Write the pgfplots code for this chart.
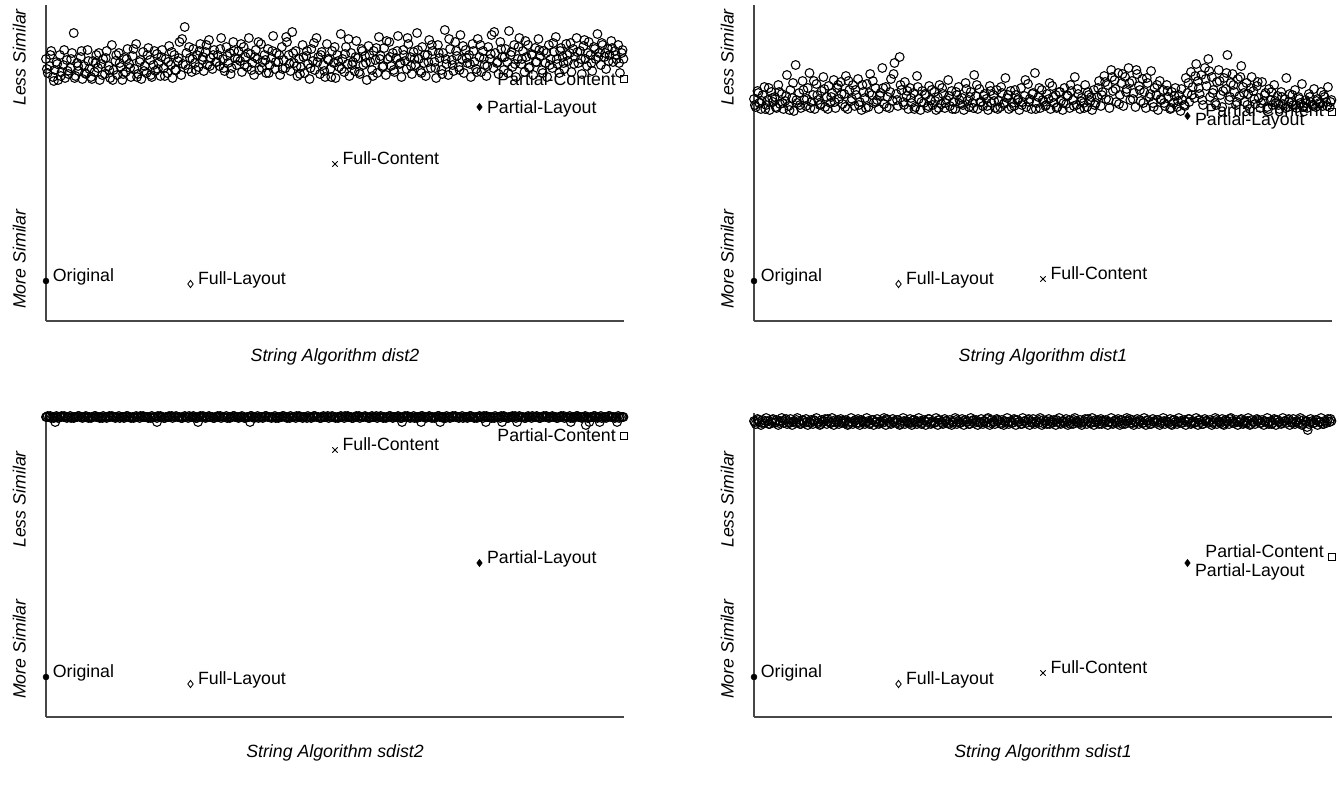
\documentclass[border=0pt]{standalone}
\usepackage{pgfplots}
\pgfplotsset{compat=1.18}
\usepackage{fontspec}
\setmainfont{Liberation Sans}
\begin{document}
\fontsize{13.3pt}{16pt}\selectfont
\begin{tikzpicture}
\path[use as bounding box] (0,0) rectangle (1004.25pt,-594pt);
\pgfplotsset{
 panel/.style={scale only axis, width=433.5pt, xmin=0, xmax=1000, ymin=0,
   axis lines=left, axis line style={-, line width=0.9pt, color=black!72}, xtick=\empty, ytick=\empty,
   clip=false, anchor=south west},
 toppanel/.style={panel, height=237pt, ymax=316},
 botpanel/.style={panel, height=228pt, ymax=304},
 cloud/.style={only marks, mark=o, mark size=3.3pt, mark options={line width=0.8pt, black}},
 orig/.style={only marks, mark=*, mark size=2.2pt, black},
 flay/.style={only marks, mark=diamond, mark size=2.7pt, mark options={line width=0.65pt}, black},
 fcon/.style={only marks, mark=x, mark size=2.8pt, mark options={line width=0.7pt}, black},
 play/.style={only marks, mark=diamond*, mark size=2.7pt, black},
 pcon/.style={only marks, mark=square, mark size=2.4pt, mark options={line width=0.65pt}, black},
}
\newcommand\ylabs[2]{%
 \node[xshift=-20pt, rotate=90, anchor=east, font=\itshape] at (axis cs:0,#1) {Less Similar};
 \node[xshift=-20pt, rotate=90, anchor=west, font=\itshape] at (axis cs:0,#2) {More Similar};}
% ---------------- panel 1: dist2
\begin{axis}[toppanel, at={(34.5pt,-240.75pt)}]
\addplot[cloud] coordinates {
(0,262)(3,248)(6,255)(9,270)(12,244)(15,251)(18,259)(21,241)(24,266)(27,249)(30,256)(33,243)(36,261)(39,247)(42,253)(45,268)(48,288)(51,245)(54,258)(57,250)(60,264)(63,242)(66,255)(69,247)(72,271)(75,252)(78,244)(81,260)(84,249)(87,266)(90,253)(93,241)(96,257)(99,262)
(102,247)(105,270)(108,255)(111,243)(114,276)(117,251)(120,260)(123,246)(126,268)(129,254)(132,241)(135,263)(138,249)(141,272)(144,257)(147,244)(150,265)(153,252)(156,277)(159,247)(162,259)(165,242)(168,269)(171,255)(174,248)(177,273)(180,261)(183,244)(186,256)(189,250)(192,267)(195,258)(198,245)
(201,271)(204,253)(207,262)(210,248)(213,275)(216,256)(219,243)(222,266)(225,251)(228,260)(231,279)(234,246)(237,257)(240,294)(243,268)(246,252)(249,263)(252,249)(255,272)(258,258)(261,266)(264,254)(267,277)(270,261)(273,250)(276,269)(279,256)(282,281)(285,263)(288,252)(291,271)(294,259)(297,266)
(300,255)(303,283)(306,262)(309,250)(312,274)(315,258)(318,268)(321,253)(324,279)(327,263)(330,256)(333,270)(336,260)(339,249)(342,274)(345,264)(348,254)(351,283)(354,267)(357,258)(360,246)(363,271)(366,262)(369,251)(372,277)(375,259)(378,266)(381,248)(384,272)(387,256)(390,263)(393,285)(396,252)(399,268)
(402,259)(405,246)(408,274)(411,261)(414,253)(417,279)(420,266)(423,250)(426,289)(429,258)(432,270)(435,245)(438,262)(441,254)(444,276)(447,248)(450,265)(453,257)(456,242)(459,272)(462,260)(465,251)(468,283)(471,264)(474,247)(477,269)(480,256)(483,244)(486,277)(489,261)(492,252)(495,270)(498,258)
(501,243)(504,266)(507,254)(510,287)(513,262)(516,249)(519,274)(522,257)(525,245)(528,268)(531,259)(534,250)(537,280)(540,263)(543,247)(546,272)(549,256)(552,265)(555,241)(558,275)(561,259)(564,251)(567,270)(570,261)(573,248)(576,284)(579,265)(582,254)(585,273)(588,246)(591,262)(594,279)(597,255)
(600,268)(603,249)(606,263)(609,285)(612,257)(615,244)(618,271)(621,260)(624,252)(627,277)(630,264)(633,247)(636,269)(639,256)(642,288)(645,262)(648,250)(651,274)(654,258)(657,245)(660,266)(663,281)(666,253)(669,270)(672,259)(675,243)(678,276)(681,263)(684,251)(687,268)(690,291)(693,257)(696,246)(699,272)
(702,261)(705,250)(708,279)(711,265)(714,254)(717,286)(720,262)(723,248)(726,271)(729,258)(732,266)(735,244)(738,277)(741,259)(744,252)(747,282)(750,264)(753,249)(756,270)(759,256)(762,245)(765,274)(768,262)(771,286)(774,253)(777,268)(780,258)(783,247)(786,279)(789,264)(792,251)(795,272)(798,259)
(801,290)(804,266)(807,254)(810,276)(813,244)(816,262)(819,283)(822,257)(825,270)(828,249)(831,264)(834,276)(837,254)(840,267)(843,246)(846,273)(849,259)(852,282)(855,265)(858,251)(861,270)(864,258)(867,244)(870,276)(873,262)(876,253)(879,269)(882,284)(885,257)(888,248)(891,273)(894,264)(897,252)
(900,277)(903,260)(906,268)(909,249)(912,272)(915,264)(918,283)(921,258)(924,270)(927,247)(930,275)(933,262)(936,255)(939,279)(942,266)(945,250)(948,274)(951,262)(954,287)(957,268)(960,256)(963,276)(966,264)(969,252)(972,272)(975,266)(978,280)(981,259)(984,270)(987,262)(990,276)(993,248)(996,268)(999,262)
(1.5,252)(7.5,266)(13.5,240)(19.5,257)(25.5,245)(31.5,271)(37.5,250)(43.5,262)(49.5,243)(55.5,255)(61.5,270)(67.5,248)(73.5,260)(79.5,242)(85.5,258)(91.5,268)(97.5,246)(103.5,263)(109.5,251)(115.5,241)(121.5,266)(127.5,258)(133.5,247)(139.5,262)(145.5,253)(151.5,272)(157.5,244)(163.5,261)(169.5,250)(175.5,266)(181.5,246)(187.5,270)(193.5,252)(199.5,264)
(205.5,245)(211.5,259)(217.5,269)(223.5,251)(229.5,263)(235.5,282)(241.5,256)(247.5,274)(253.5,262)(259.5,251)(265.5,270)(271.5,264)(277.5,276)(283.5,255)(289.5,266)(295.5,259)(301.5,272)(307.5,253)(313.5,265)(319.5,247)(325.5,270)(331.5,262)(337.5,277)(343.5,256)(349.5,268)(355.5,251)(361.5,264)(367.5,279)(373.5,253)(379.5,261)(385.5,248)(391.5,270)(397.5,259)
(403.5,266)(409.5,252)(415.5,284)(421.5,257)(427.5,268)(433.5,255)(439.5,247)(445.5,264)(451.5,270)(457.5,253)(463.5,278)(469.5,259)(475.5,266)(481.5,250)(487.5,262)(493.5,244)(499.5,274)(505.5,260)(511.5,252)(517.5,267)(523.5,282)(529.5,256)(535.5,264)(541.5,249)(547.5,270)(553.5,258)(559.5,266)(565.5,245)(571.5,273)(577.5,262)(583.5,255)(589.5,280)(595.5,264)
(601.5,251)(607.5,270)(613.5,258)(619.5,266)(625.5,283)(631.5,255)(637.5,262)(643.5,271)(649.5,248)(655.5,266)(661.5,259)(667.5,276)(673.5,253)(679.5,268)(685.5,247)(691.5,262)(697.5,282)(703.5,256)(709.5,270)(715.5,251)(721.5,275)(727.5,263)(733.5,257)(739.5,270)(745.5,249)(751.5,276)(757.5,262)(763.5,255)(769.5,267)(775.5,289)(781.5,259)(787.5,272)(793.5,264)(799.5,248)
(805.5,269)(811.5,257)(817.5,274)(823.5,262)(829.5,280)(835.5,253)(841.5,266)(847.5,259)(853.5,271)(859.5,248)(865.5,268)(871.5,256)(877.5,278)(883.5,262)(889.5,270)(895.5,258)(901.5,266)(907.5,278)(913.5,257)(919.5,269)(925.5,262)(931.5,281)(937.5,268)(943.5,258)(949.5,272)(955.5,264)(961.5,278)(967.5,268)(973.5,260)(979.5,273)(985.5,266)(991.5,258)(997.5,271)
};
\addplot[orig] coordinates {(0,40)};
\addplot[flay] coordinates {(250,37)};
\addplot[fcon] coordinates {(500,157)};
\addplot[play] coordinates {(750,214)};
\addplot[pcon] coordinates {(1000,242)};
\node[anchor=base west, inner sep=0pt, xshift=5pt] at (axis cs:0,40) {Original};
\node[anchor=base west, inner sep=0pt, xshift=5.5pt] at (axis cs:250,37) {Full-Layout};
\node[anchor=base west, inner sep=0pt, xshift=5.5pt] at (axis cs:500,157) {Full-Content};
\node[anchor=base west, inner sep=0pt, xshift=5.5pt, yshift=-5pt] at (axis cs:750,214) {Partial-Layout};
\node[anchor=base east, inner sep=0pt, xshift=-6pt, yshift=-5pt] at (axis cs:1000,242) {Partial-Content};
\ylabs{318}{6}
\node[font=\itshape] at ([yshift=-27pt]rel axis cs:0.5,0) {String Algorithm dist2};
\end{axis}
% ---------------- panel 2: dist1
\begin{axis}[toppanel, at={(565.5pt,-240.75pt)}]
\addplot[cloud] coordinates {
(0,222)(3,214)(6,230)(9,218)(12,212)(15,226)(18,234)(21,216)(24,221)(27,211)(30,229)(33,219)(36,224)(39,213)(42,236)(45,217)(48,227)(51,212)(54,220)(57,246)(60,215)(63,231)(66,223)(69,210)(72,256)(75,218)(78,228)(81,213)(84,240)(87,221)(90,215)(93,233)(96,248)(99,219)
(102,226)(105,212)(108,237)(111,221)(114,216)(117,230)(120,244)(123,214)(126,224)(129,235)(132,218)(135,228)(138,241)(141,213)(144,233)(147,222)(150,239)(153,217)(156,227)(159,245)(162,212)(165,231)(168,220)(171,236)(174,215)(177,226)(180,242)(183,219)(186,211)(189,229)(192,223)(195,237)(198,214)
(201,247)(204,226)(207,218)(210,233)(213,221)(216,212)(219,228)(222,253)(225,217)(228,234)(231,224)(234,213)(237,242)(240,220)(243,258)(246,227)(249,215)(252,264)(255,231)(258,219)(261,239)(264,225)(267,212)(270,233)(273,218)(276,228)(279,214)(282,245)(285,222)(288,211)(291,230)(294,218)(297,226)
(300,213)(303,235)(306,221)(309,216)(312,229)(315,211)(318,224)(321,236)(324,217)(327,227)(330,213)(333,221)(336,241)(339,215)(342,230)(345,219)(348,212)(351,226)(354,234)(357,217)(360,223)(363,211)(366,238)(369,220)(372,214)(375,229)(378,218)(381,246)(384,225)(387,212)(390,232)(393,219)(396,215)(399,227)
(402,222)(405,211)(408,235)(411,218)(414,226)(417,213)(420,231)(423,220)(426,214)(429,228)(432,217)(435,243)(438,223)(441,212)(444,230)(447,218)(450,215)(453,226)(456,221)(459,211)(462,233)(465,219)(468,225)(471,214)(474,237)(477,222)(480,212)(483,228)(486,248)(489,218)(492,224)(495,213)(498,231)
(501,219)(504,215)(507,227)(510,222)(513,212)(516,235)(519,218)(522,226)(525,214)(528,229)(531,220)(534,211)(537,233)(540,217)(543,225)(546,213)(549,230)(552,221)(555,244)(558,216)(561,227)(564,212)(567,223)(570,218)(573,236)(576,214)(579,226)(582,220)(585,211)(588,231)(591,218)(594,224)(597,240)
(600,215)(603,229)(606,245)(609,222)(612,236)(615,213)(618,251)(621,230)(624,241)(627,219)(630,248)(633,226)(636,238)(639,215)(642,244)(645,232)(648,253)(651,221)(654,240)(657,228)(660,214)(663,247)(666,235)(669,220)(672,242)(675,229)(678,213)(681,238)(684,224)(687,250)(690,218)(693,233)(696,226)(699,211)
(702,240)(705,221)(708,231)(711,215)(714,236)(717,224)(720,212)(723,229)(726,218)(729,233)(732,214)(735,226)(738,210)(741,221)(744,216)(747,243)(750,228)(753,219)(756,249)(759,234)(762,223)(765,257)(768,240)(771,227)(774,246)(777,216)(780,253)(783,235)(786,262)(789,224)(792,244)(795,231)(798,218)
(801,239)(804,251)(807,226)(810,214)(813,243)(816,232)(819,266)(822,221)(825,238)(828,247)(831,229)(834,216)(837,242)(840,225)(843,255)(846,234)(849,219)(852,238)(855,227)(858,212)(861,244)(864,230)(867,217)(870,235)(873,223)(876,213)(879,239)(882,220)(885,228)(888,214)(891,232)(894,221)(897,216)
(900,236)(903,218)(906,225)(909,212)(912,229)(915,217)(918,222)(921,243)(924,214)(927,227)(930,219)(933,216)(936,231)(939,213)(942,224)(945,218)(948,237)(951,215)(954,221)(957,213)(960,227)(963,219)(966,216)(969,232)(972,214)(975,222)(978,218)(981,229)(984,215)(987,224)(990,219)(993,234)(996,214)(999,221)
(1.5,216)(7.5,228)(13.5,220)(19.5,212)(25.5,233)(31.5,223)(37.5,214)(43.5,229)(49.5,218)(55.5,225)(61.5,211)(67.5,238)(73.5,221)(79.5,216)(85.5,231)(91.5,222)(97.5,213)(103.5,240)(109.5,226)(115.5,217)(121.5,232)(127.5,212)(133.5,224)(139.5,219)(145.5,236)(151.5,227)(157.5,214)(163.5,240)(169.5,222)(175.5,231)(181.5,216)(187.5,236)(193.5,213)(199.5,228)
(205.5,240)(211.5,219)(217.5,225)(223.5,233)(229.5,214)(235.5,229)(241.5,247)(247.5,221)(253.5,236)(259.5,216)(265.5,230)(271.5,223)(277.5,212)(283.5,234)(289.5,219)(295.5,227)(301.5,215)(307.5,231)(313.5,220)(319.5,213)(325.5,233)(331.5,218)(337.5,225)(343.5,212)(349.5,229)(355.5,221)(361.5,216)(367.5,232)(373.5,224)(379.5,213)(385.5,236)(391.5,219)(397.5,225)
(403.5,215)(409.5,230)(415.5,220)(421.5,212)(427.5,234)(433.5,218)(439.5,226)(445.5,214)(451.5,231)(457.5,222)(463.5,216)(469.5,241)(475.5,219)(481.5,227)(487.5,212)(493.5,233)(499.5,221)(505.5,216)(511.5,238)(517.5,224)(523.5,213)(529.5,229)(535.5,218)(541.5,226)(547.5,236)(553.5,215)(559.5,232)(565.5,220)(571.5,213)(577.5,229)(583.5,224)(589.5,216)(595.5,233)
(601.5,226)(607.5,239)(613.5,221)(619.5,244)(625.5,232)(631.5,217)(637.5,247)(643.5,229)(649.5,238)(655.5,222)(661.5,251)(667.5,231)(673.5,218)(679.5,243)(685.5,227)(691.5,214)(697.5,236)(703.5,222)(709.5,218)(715.5,230)(721.5,213)(727.5,225)(733.5,220)(739.5,232)(745.5,215)(751.5,238)(757.5,226)(763.5,245)(769.5,233)(775.5,221)(781.5,242)(787.5,250)(793.5,228)(799.5,216)
(805.5,240)(811.5,230)(817.5,248)(823.5,224)(829.5,236)(835.5,219)(841.5,244)(847.5,228)(853.5,216)(859.5,233)(865.5,222)(871.5,239)(877.5,218)(883.5,226)(889.5,212)(895.5,229)(901.5,220)(907.5,216)(913.5,224)(919.5,213)(925.5,219)(931.5,226)(937.5,216)(943.5,222)(949.5,214)(955.5,218)(961.5,224)(967.5,215)(973.5,220)(979.5,217)(985.5,226)(991.5,215)(997.5,219)
};
\addplot[orig] coordinates {(0,40)};
\addplot[flay] coordinates {(250,37)};
\addplot[fcon] coordinates {(500,42)};
\addplot[play] coordinates {(750,205)};
\addplot[pcon] coordinates {(1000,209)};
\node[anchor=base west, inner sep=0pt, xshift=5pt] at (axis cs:0,40) {Original};
\node[anchor=base west, inner sep=0pt, xshift=5.5pt] at (axis cs:250,37) {Full-Layout};
\node[anchor=base west, inner sep=0pt, xshift=5.5pt] at (axis cs:500,42) {Full-Content};
\node[anchor=base west, inner sep=0pt, xshift=5.5pt, yshift=-7pt] at (axis cs:750,205) {Partial-Layout};
\node[anchor=base east, inner sep=0pt, xshift=-6pt, yshift=-3.5pt] at (axis cs:1000,209) {Partial-Content};
\ylabs{318}{6}
\node[font=\itshape] at ([yshift=-27pt]rel axis cs:0.5,0) {String Algorithm dist1};
\end{axis}
% ---------------- panel 3: sdist2
\begin{axis}[botpanel, at={(34.5pt,-537.75pt)}]
\addplot[cloud] coordinates {
(0,300)(3,301)(6,300)(9,299)(12,300)(15,300)(18,301)(21,299)(24,300)(27,301)(30,300)(33,300)(36,299)(39,300)(42,301)(45,300)(48,299)(51,300)(54,300)(57,301)(60,300)(63,299)(66,300)(69,301)(72,300)(75,300)(78,299)(81,300)(84,301)(87,300)(90,300)(93,299)(96,300)(99,301)
(102,300)(105,299)(108,300)(111,300)(114,301)(117,300)(120,299)(123,300)(126,301)(129,300)(132,300)(135,299)(138,300)(141,301)(144,300)(147,299)(150,300)(153,300)(156,301)(159,300)(162,299)(165,300)(168,301)(171,300)(174,300)(177,299)(180,300)(183,301)(186,300)(189,300)(192,299)(195,300)(198,301)
(201,300)(204,299)(207,300)(210,300)(213,301)(216,300)(219,299)(222,300)(225,301)(228,300)(231,300)(234,299)(237,300)(240,301)(243,300)(246,299)(249,300)(252,300)(255,301)(258,300)(261,299)(264,300)(267,301)(270,300)(273,300)(276,299)(279,300)(282,301)(285,300)(288,300)(291,299)(294,300)(297,301)
(300,300)(303,299)(306,300)(309,300)(312,301)(315,300)(318,299)(321,300)(324,301)(327,300)(330,300)(333,299)(336,300)(339,301)(342,300)(345,299)(348,300)(351,300)(354,301)(357,300)(360,299)(363,300)(366,301)(369,300)(372,300)(375,299)(378,300)(381,301)(384,300)(387,300)(390,299)(393,300)(396,301)(399,300)
(402,299)(405,300)(408,300)(411,301)(414,300)(417,299)(420,300)(423,301)(426,300)(429,300)(432,299)(435,300)(438,301)(441,300)(444,299)(447,300)(450,300)(453,301)(456,300)(459,299)(462,300)(465,301)(468,300)(471,300)(474,299)(477,300)(480,301)(483,300)(486,300)(489,299)(492,300)(495,301)(498,300)
(501,299)(504,300)(507,300)(510,301)(513,300)(516,299)(519,300)(522,301)(525,300)(528,300)(531,299)(534,300)(537,301)(540,300)(543,299)(546,300)(549,300)(552,301)(555,300)(558,299)(561,300)(564,301)(567,300)(570,300)(573,299)(576,300)(579,301)(582,300)(585,300)(588,299)(591,300)(594,301)(597,300)
(600,299)(603,300)(606,300)(609,301)(612,300)(615,299)(618,300)(621,301)(624,300)(627,300)(630,299)(633,300)(636,301)(639,300)(642,299)(645,300)(648,300)(651,301)(654,300)(657,299)(660,300)(663,301)(666,300)(669,300)(672,299)(675,300)(678,301)(681,300)(684,300)(687,299)(690,300)(693,301)(696,300)(699,299)
(702,300)(705,300)(708,301)(711,300)(714,299)(717,300)(720,301)(723,300)(726,300)(729,299)(732,300)(735,301)(738,300)(741,299)(744,300)(747,300)(750,301)(753,300)(756,299)(759,300)(762,301)(765,300)(768,300)(771,299)(774,300)(777,301)(780,300)(783,300)(786,299)(789,300)(792,301)(795,300)(798,299)
(801,300)(804,300)(807,301)(810,300)(813,299)(816,300)(819,301)(822,300)(825,300)(828,299)(831,300)(834,301)(837,300)(840,299)(843,300)(846,300)(849,301)(852,300)(855,299)(858,300)(861,301)(864,300)(867,300)(870,299)(873,300)(876,301)(879,300)(882,300)(885,299)(888,300)(891,301)(894,300)(897,299)
(900,300)(903,300)(906,301)(909,300)(912,299)(915,300)(918,301)(921,300)(924,300)(927,299)(930,300)(933,301)(936,300)(939,299)(942,300)(945,300)(948,301)(951,300)(954,299)(957,300)(960,301)(963,300)(966,300)(969,299)(972,300)(975,301)(978,300)(981,300)(984,299)(987,300)(990,301)(993,300)(996,300)(999,300)
(1.5,300)(7.5,301)(13.5,299)(19.5,300)(25.5,300)(31.5,301)(37.5,300)(43.5,299)(49.5,300)(55.5,301)(61.5,300)(67.5,300)(73.5,299)(79.5,300)(85.5,301)(91.5,300)(97.5,299)(103.5,300)(109.5,301)(115.5,300)(121.5,300)(127.5,299)(133.5,300)(139.5,301)(145.5,300)(151.5,299)(157.5,300)(163.5,301)(169.5,300)(175.5,300)(181.5,299)(187.5,300)(193.5,301)(199.5,300)
(205.5,299)(211.5,300)(217.5,301)(223.5,300)(229.5,300)(235.5,299)(241.5,300)(247.5,301)(253.5,300)(259.5,299)(265.5,300)(271.5,301)(277.5,300)(283.5,300)(289.5,299)(295.5,300)(301.5,301)(307.5,300)(313.5,299)(319.5,300)(325.5,301)(331.5,300)(337.5,300)(343.5,299)(349.5,300)(355.5,301)(361.5,300)(367.5,299)(373.5,300)(379.5,301)(385.5,300)(391.5,300)(397.5,299)
(403.5,300)(409.5,301)(415.5,300)(421.5,299)(427.5,300)(433.5,301)(439.5,300)(445.5,300)(451.5,299)(457.5,300)(463.5,301)(469.5,300)(475.5,299)(481.5,300)(487.5,301)(493.5,300)(499.5,300)(505.5,299)(511.5,300)(517.5,301)(523.5,300)(529.5,299)(535.5,300)(541.5,301)(547.5,300)(553.5,300)(559.5,299)(565.5,300)(571.5,301)(577.5,300)(583.5,299)(589.5,300)(595.5,301)
(601.5,300)(607.5,300)(613.5,299)(619.5,300)(625.5,301)(631.5,300)(637.5,299)(643.5,300)(649.5,301)(655.5,300)(661.5,300)(667.5,299)(673.5,300)(679.5,301)(685.5,300)(691.5,299)(697.5,300)(703.5,301)(709.5,300)(715.5,300)(721.5,299)(727.5,300)(733.5,301)(739.5,300)(745.5,299)(751.5,300)(757.5,301)(763.5,300)(769.5,300)(775.5,299)(781.5,300)(787.5,301)(793.5,300)(799.5,299)
(805.5,300)(811.5,301)(817.5,300)(823.5,300)(829.5,299)(835.5,300)(841.5,301)(847.5,300)(853.5,299)(859.5,300)(865.5,301)(871.5,300)(877.5,300)(883.5,299)(889.5,300)(895.5,301)(901.5,300)(907.5,299)(913.5,300)(919.5,301)(925.5,300)(931.5,300)(937.5,299)(943.5,300)(949.5,301)(955.5,300)(961.5,299)(967.5,300)(973.5,301)(979.5,300)(985.5,300)(991.5,299)(997.5,300)
(16,295)(192,295)(263,295)(353,295)(616,295)(649,295)(682,295)(761,295)(789,295)(815,295)(908,295)(934,292)(940,295)(958,295)(988,295)
};
\addplot[orig] coordinates {(0,40)};
\addplot[flay] coordinates {(250,33)};
\addplot[fcon] coordinates {(500,267)};
\addplot[play] coordinates {(750,154)};
\addplot[pcon] coordinates {(1000,281)};
\node[anchor=base west, inner sep=0pt, xshift=5pt] at (axis cs:0,40) {Original};
\node[anchor=base west, inner sep=0pt, xshift=5.5pt] at (axis cs:250,33) {Full-Layout};
\node[anchor=base west, inner sep=0pt, xshift=5.5pt] at (axis cs:500,267) {Full-Content};
\node[anchor=base west, inner sep=0pt, xshift=5.5pt] at (axis cs:750,154) {Partial-Layout};
\node[anchor=base east, inner sep=0pt, xshift=-6pt, yshift=-4pt] at (axis cs:1000,281) {Partial-Content};
\ylabs{272}{12}
\node[font=\itshape] at ([yshift=-27pt]rel axis cs:0.5,0) {String Algorithm sdist2};
\end{axis}
% ---------------- panel 4: sdist1
\begin{axis}[botpanel, at={(565.5pt,-537.75pt)}]
\addplot[cloud] coordinates {
(0,296)(3,293)(6,298)(9,295)(12,292)(15,297)(18,294)(21,299)(24,296)(27,293)(30,295)(33,298)(36,294)(39,297)(42,292)(45,296)(48,299)(51,294)(54,297)(57,293)(60,295)(63,298)(66,292)(69,296)(72,294)(75,299)(78,295)(81,293)(84,297)(87,294)(90,298)(93,292)(96,295)(99,297)
(102,293)(105,296)(108,299)(111,294)(114,292)(117,297)(120,295)(123,298)(126,293)(129,296)(132,294)(135,299)(138,292)(141,297)(144,295)(147,293)(150,298)(153,296)(156,294)(159,297)(162,292)(165,295)(168,299)(171,293)(174,296)(177,294)(180,298)(183,292)(186,297)(189,295)(192,293)(195,299)(198,296)
(201,294)(204,297)(207,292)(210,295)(213,298)(216,293)(219,296)(222,294)(225,299)(228,292)(231,297)(234,295)(237,293)(240,298)(243,296)(246,294)(249,297)(252,292)(255,295)(258,299)(261,293)(264,296)(267,294)(270,298)(273,292)(276,297)(279,295)(282,293)(285,299)(288,296)(291,294)(294,297)(297,292)
(300,295)(303,298)(306,293)(309,296)(312,294)(315,299)(318,292)(321,297)(324,295)(327,293)(330,298)(333,296)(336,294)(339,297)(342,292)(345,295)(348,299)(351,293)(354,296)(357,294)(360,298)(363,292)(366,297)(369,295)(372,293)(375,299)(378,296)(381,294)(384,297)(387,292)(390,295)(393,298)(396,293)(399,296)
(402,294)(405,299)(408,292)(411,297)(414,295)(417,293)(420,298)(423,296)(426,294)(429,297)(432,292)(435,295)(438,299)(441,293)(444,296)(447,294)(450,298)(453,292)(456,297)(459,295)(462,293)(465,299)(468,296)(471,294)(474,297)(477,292)(480,295)(483,298)(486,293)(489,296)(492,294)(495,299)(498,292)
(501,297)(504,295)(507,293)(510,298)(513,296)(516,294)(519,297)(522,292)(525,295)(528,299)(531,293)(534,296)(537,294)(540,298)(543,292)(546,297)(549,295)(552,293)(555,299)(558,296)(561,294)(564,297)(567,292)(570,295)(573,298)(576,293)(579,296)(582,294)(585,299)(588,292)(591,297)(594,295)(597,293)
(600,298)(603,296)(606,294)(609,297)(612,292)(615,295)(618,299)(621,293)(624,296)(627,294)(630,298)(633,292)(636,297)(639,295)(642,293)(645,299)(648,296)(651,294)(654,297)(657,292)(660,295)(663,298)(666,293)(669,296)(672,294)(675,299)(678,292)(681,297)(684,295)(687,293)(690,298)(693,296)(696,294)(699,297)
(702,292)(705,295)(708,299)(711,293)(714,296)(717,294)(720,298)(723,292)(726,297)(729,295)(732,293)(735,299)(738,296)(741,294)(744,297)(747,292)(750,295)(753,298)(756,293)(759,296)(762,294)(765,299)(768,292)(771,297)(774,295)(777,293)(780,298)(783,296)(786,294)(789,297)(792,292)(795,295)(798,299)
(801,293)(804,296)(807,294)(810,298)(813,292)(816,297)(819,295)(822,293)(825,299)(828,296)(831,294)(834,297)(837,292)(840,295)(843,298)(846,293)(849,296)(852,294)(855,299)(858,292)(861,297)(864,295)(867,293)(870,298)(873,296)(876,294)(879,297)(882,292)(885,295)(888,299)(891,293)(894,296)(897,294)
(900,298)(903,292)(906,297)(909,295)(912,293)(915,299)(918,296)(921,294)(924,297)(927,292)(930,295)(933,298)(936,293)(939,296)(942,294)(945,299)(948,292)(951,297)(954,295)(957,290)(958,287)(960,293)(963,298)(966,296)(969,294)(972,297)(975,292)(978,295)(981,299)(984,293)(987,296)(990,294)(993,298)(996,295)(999,296)
(1.5,295)(7.5,297)(13.5,294)(19.5,296)(25.5,293)(31.5,297)(37.5,295)(43.5,294)(49.5,296)(55.5,298)(61.5,294)(67.5,295)(73.5,297)(79.5,293)(85.5,296)(91.5,295)(97.5,294)(103.5,297)(109.5,295)(115.5,293)(121.5,296)(127.5,298)(133.5,294)(139.5,295)(145.5,297)(151.5,294)(157.5,296)(163.5,293)(169.5,295)(175.5,297)(181.5,294)(187.5,296)(193.5,295)(199.5,293)
(205.5,297)(211.5,295)(217.5,294)(223.5,296)(229.5,298)(235.5,294)(241.5,295)(247.5,297)(253.5,293)(259.5,296)(265.5,295)(271.5,294)(277.5,297)(283.5,295)(289.5,293)(295.5,296)(301.5,298)(307.5,294)(313.5,295)(319.5,297)(325.5,294)(331.5,296)(337.5,293)(343.5,295)(349.5,297)(355.5,294)(361.5,296)(367.5,295)(373.5,293)(379.5,297)(385.5,295)(391.5,294)(397.5,296)
(403.5,298)(409.5,294)(415.5,295)(421.5,297)(427.5,293)(433.5,296)(439.5,295)(445.5,294)(451.5,297)(457.5,295)(463.5,293)(469.5,296)(475.5,298)(481.5,294)(487.5,295)(493.5,297)(499.5,294)(505.5,296)(511.5,293)(517.5,295)(523.5,297)(529.5,294)(535.5,296)(541.5,295)(547.5,293)(553.5,297)(559.5,295)(565.5,294)(571.5,296)(577.5,298)(583.5,294)(589.5,295)(595.5,297)
(601.5,293)(607.5,296)(613.5,295)(619.5,294)(625.5,297)(631.5,295)(637.5,293)(643.5,296)(649.5,298)(655.5,294)(661.5,295)(667.5,297)(673.5,294)(679.5,296)(685.5,293)(691.5,295)(697.5,297)(703.5,294)(709.5,296)(715.5,295)(721.5,293)(727.5,297)(733.5,295)(739.5,294)(745.5,296)(751.5,298)(757.5,294)(763.5,295)(769.5,297)(775.5,293)(781.5,296)(787.5,295)(793.5,294)(799.5,297)
(805.5,295)(811.5,293)(817.5,296)(823.5,298)(829.5,294)(835.5,295)(841.5,297)(847.5,294)(853.5,296)(859.5,293)(865.5,295)(871.5,297)(877.5,294)(883.5,296)(889.5,295)(895.5,293)(901.5,297)(907.5,295)(913.5,294)(919.5,296)(925.5,298)(931.5,294)(937.5,295)(943.5,297)(949.5,293)(955.5,296)(961.5,295)(967.5,294)(973.5,297)(979.5,295)(985.5,293)(991.5,296)(997.5,298)
};
\addplot[orig] coordinates {(0,40)};
\addplot[flay] coordinates {(250,33)};
\addplot[fcon] coordinates {(500,44)};
\addplot[play] coordinates {(750,154)};
\addplot[pcon] coordinates {(1000,160)};
\node[anchor=base west, inner sep=0pt, xshift=5pt] at (axis cs:0,40) {Original};
\node[anchor=base west, inner sep=0pt, xshift=5.5pt] at (axis cs:250,33) {Full-Layout};
\node[anchor=base west, inner sep=0pt, xshift=5.5pt] at (axis cs:500,44) {Full-Content};
\node[anchor=base west, inner sep=0pt, xshift=5.5pt, yshift=-10pt] at (axis cs:750,154) {Partial-Layout};
\node[anchor=base east, inner sep=0pt, xshift=-6pt, yshift=0pt] at (axis cs:1000,160) {Partial-Content};
\ylabs{272}{12}
\node[font=\itshape] at ([yshift=-27pt]rel axis cs:0.5,0) {String Algorithm sdist1};
\end{axis}
\end{tikzpicture}
\end{document}
